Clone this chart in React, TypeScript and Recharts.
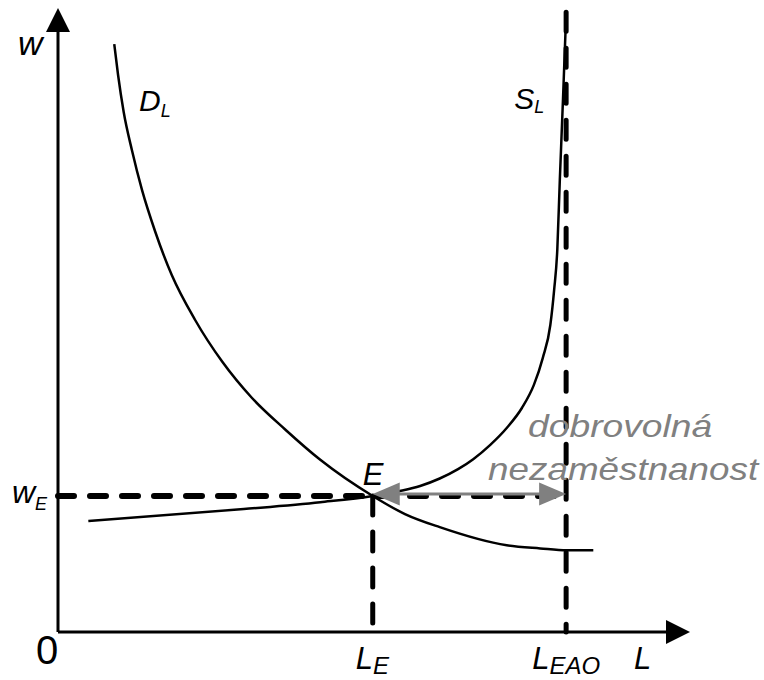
import React from 'react';
import { LineChart, Line, XAxis, YAxis, ReferenceLine, ReferenceDot } from 'recharts';

// labour market: L on x (0..100), w on y (0..100)
const L_E = 49.8;
const L_EAO = 80.4;
const W_E = 21.8;

const demandL = [8.9, 9.5, 10.4, 11.7, 13.3, 15.4, 18.0, 21.7, 26.0, 30.7, 35.9, 41.5, L_E, 54.9, 60.4, 71.0, 76.3, 80.5, 84.7];
const demandW = [94.2, 89.3, 83.3, 77.2, 70.8, 64.1, 57.2, 50.0, 43.3, 37.5, 32.5, 27.6, W_E, 18.9, 16.8, 13.9, 13.4, 13.1, 13.1];

const supplyL = [4.8, 29.4, 41.5, L_E, 54.1, 57.3, 60.4, 63.3, 65.7, 68.4, 71.0, 73.4, 75.3, 76.7, 77.9, 78.5, 79.0, 79.4, 79.9, 80.4];
const supplyW = [17.8, 19.7, 20.8, W_E, 22.6, 23.4, 24.6, 26.1, 27.7, 30.0, 32.7, 35.9, 39.6, 43.9, 49.2, 54.8, 61.2, 72.4, 85.3, 98.9];

const demandData = demandL.map((x, i) => ({ x, w: demandW[i] }));
const supplyData = supplyL.map((x, i) => ({ x, w: supplyW[i] }));

const GRAY = '#808080';
const FONT = '"Liberation Sans", Arial, sans-serif';

type Lbl = {
  main: string; sub?: string; x: number; y: number; dx: number; dy: number;
  size: number; subSize?: number; subDy?: number; upright?: boolean; fill?: string; length?: number;
};

const labels: Lbl[] = [
  { main: 'w', x: 0, y: 100, dx: -40, dy: 47, size: 34 },
  { main: 'D', sub: 'L', x: 0, y: 100, dx: 81, dy: 103, size: 30, subSize: 18, subDy: 6 },
  { main: 'S', sub: 'L', x: L_EAO, y: 100, dx: -52, dy: 101, size: 30, subSize: 18, subDy: 4 },
  { main: 'E', x: L_E, y: W_E, dx: -10, dy: -11, size: 31 },
  { main: 'w', sub: 'E', x: 0, y: W_E, dx: -46, dy: 7, size: 32, subSize: 18, subDy: 7 },
  { main: '0', x: 0, y: 0, dx: -22, dy: 32, size: 40, upright: true },
  { main: 'L', sub: 'E', x: L_E, y: 0, dx: -17, dy: 37, size: 31, subSize: 24, subDy: 5 },
  { main: 'L', sub: 'EAO', x: L_EAO, y: 0, dx: -34, dy: 37, size: 31, subSize: 24, subDy: 5 },
  { main: 'L', x: 100, y: 0, dx: -56, dy: 37, size: 31 },
  { main: 'dobrovolná', x: L_EAO, y: W_E, dx: -38, dy: -59, size: 32, fill: GRAY, length: 184 },
  { main: 'nezaměstnanost', x: L_EAO, y: W_E, dx: -78, dy: -16, size: 32, fill: GRAY, length: 270 },
];

// line with optional arrow heads, drawn from the reference line's own coordinates
const arrowShape = (opts: { stroke: string; width: number; head: number; half: number; start?: boolean; end?: boolean; shift?: number }) =>
  (p: any) => {
    const sy = opts.shift || 0;
    const x1 = p.x1, y1 = p.y1 + sy, x2 = p.x2, y2 = p.y2 + sy;
    const len = Math.hypot(x2 - x1, y2 - y1) || 1;
    const ux = (x2 - x1) / len, uy = (y2 - y1) / len;
    const nx = -uy, ny = ux;
    const tri = (tx: number, ty: number, dir: number) => {
      const bx = tx - dir * ux * opts.head, by = ty - dir * uy * opts.head;
      return `${tx},${ty} ${bx + nx * opts.half},${by + ny * opts.half} ${bx - nx * opts.half},${by - ny * opts.half}`;
    };
    const sx1 = opts.start ? x1 + ux * (opts.head - 2) : x1;
    const sy1 = opts.start ? y1 + uy * (opts.head - 2) : y1;
    const sx2 = opts.end ? x2 - ux * (opts.head - 2) : x2;
    const sy2 = opts.end ? y2 - uy * (opts.head - 2) : y2;
    return (
      <g>
        <line x1={sx1} y1={sy1} x2={sx2} y2={sy2} stroke={opts.stroke} strokeWidth={opts.width} />
        {opts.start && <polygon points={tri(x1, y1, -1)} fill={opts.stroke} />}
        {opts.end && <polygon points={tri(x2, y2, 1)} fill={opts.stroke} />}
      </g>
    );
  };

const labelShape = (l: Lbl) => (p: any) => (
  <text
    x={p.cx + l.dx}
    y={p.cy + l.dy}
    fontFamily={FONT}
    fontSize={l.size}
    fontStyle={l.upright ? 'normal' : 'italic'}
    fill={l.fill || '#000'}
    textLength={l.length}
    lengthAdjust={l.length ? 'spacingAndGlyphs' : undefined}
  >
    {l.main}
    {l.sub && (
      <tspan fontSize={l.subSize} dy={l.subDy}>
        {l.sub}
      </tspan>
    )}
  </text>
);

const App: React.FC = () => {
  return (
    <div style={{ position: 'absolute', left: 0, top: 0, width: 764, height: 680, background: '#fff' }}>
      <LineChart width={764} height={680} margin={{ top: 8, right: 74, bottom: 48, left: 58 }}>
        <XAxis type="number" dataKey="x" domain={[0, 100]} hide allowDataOverflow />
        <YAxis type="number" dataKey="w" domain={[0, 100]} hide allowDataOverflow />

        {/* dashed guides */}
        <ReferenceLine
          segment={[{ x: 0, y: W_E }, { x: L_EAO, y: W_E }]}
          stroke="#000" strokeWidth={6} strokeDasharray="16 16" strokeLinecap="round" ifOverflow="visible"
        />
        <ReferenceLine
          segment={[{ x: L_E, y: W_E }, { x: L_E, y: 0 }]}
          stroke="#000" strokeWidth={5} strokeDasharray="19 17" strokeLinecap="round" ifOverflow="visible"
        />
        <ReferenceLine
          segment={[{ x: L_EAO, y: 99.3 }, { x: L_EAO, y: 0 }]}
          stroke="#000" strokeWidth={5} strokeDasharray="19 17" strokeLinecap="round" ifOverflow="visible"
        />

        {/* axes with arrows */}
        <ReferenceLine
          segment={[{ x: 0, y: 0 }, { x: 100, y: 0 }]} ifOverflow="visible"
          shape={arrowShape({ stroke: '#000', width: 3, head: 24, half: 12, end: true })}
        />
        <ReferenceLine
          segment={[{ x: 0, y: 0 }, { x: 0, y: 100 }]} ifOverflow="visible"
          shape={arrowShape({ stroke: '#000', width: 3, head: 24, half: 12, end: true })}
        />

        <Line data={demandData} dataKey="w" type="monotone" stroke="#000" strokeWidth={2.5} dot={false} isAnimationActive={false} />
        <Line data={supplyData} dataKey="w" type="monotone" stroke="#000" strokeWidth={2.5} dot={false} isAnimationActive={false} />

        {/* voluntary unemployment */}
        <ReferenceLine
          segment={[{ x: L_E, y: W_E }, { x: L_EAO, y: W_E }]} ifOverflow="visible"
          shape={arrowShape({ stroke: GRAY, width: 3, head: 27, half: 11.5, start: true, end: true, shift: -2 })}
        />

        {labels.map((l, i) => (
          <ReferenceDot key={i} x={l.x} y={l.y} r={0} ifOverflow="visible" shape={labelShape(l)} />
        ))}
      </LineChart>
    </div>
  );
};

export default App;
